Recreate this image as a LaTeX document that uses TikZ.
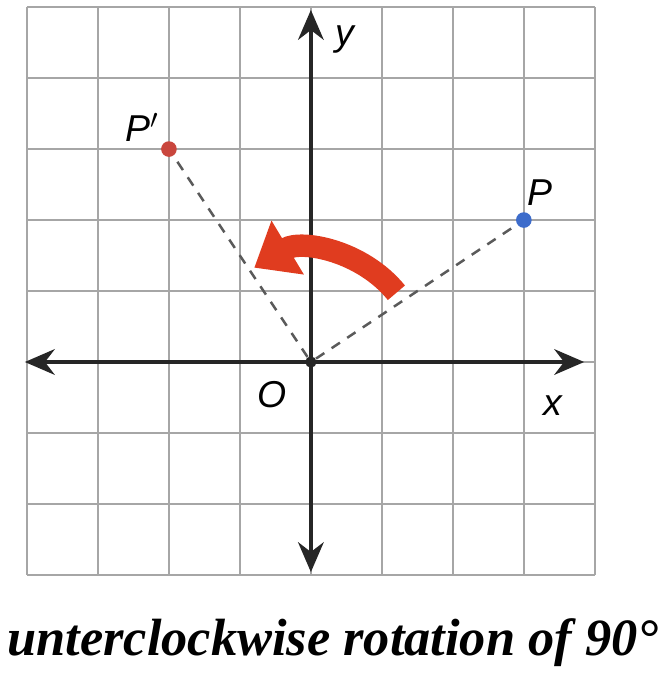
\documentclass[tikz,border=0pt]{standalone}
\usepackage{fontspec}
\setmainfont{Liberation Serif}
\setsansfont{Liberation Sans}
\usepackage{tikz}
\usetikzlibrary{arrows.meta}
\definecolor{gridgray}{HTML}{A6A6A6}
\definecolor{axisblack}{HTML}{262626}
\definecolor{dashgray}{HTML}{5A5A5A}
\definecolor{ptblue}{HTML}{3D6CCB}
\definecolor{ptred}{HTML}{C9463D}
\definecolor{turnred}{HTML}{E03C1F}

\begin{document}
\begin{tikzpicture}[>={Stealth[length=4.2mm,width=3.6mm]},font=\sffamily\itshape\fontsize{15}{18}\selectfont]

\tikzset{
g/.style={draw=gridgray,line width=0.8pt},
ax/.style={<->,line width=1.7pt,color=axisblack},
d/.style={dash pattern=on 4pt off 3.5pt,line width=1pt,color=dashgray},
pt/.style={circle,inner sep=0pt,minimum size=2.2mm},
turn/.style={-{Triangle[length=5.5mm,width=8.5mm]},line width=9pt,color=turnred}
}

\useasboundingbox (-4.38,-4.48) rectangle (5.0,5.1);

\draw[g] (-4,-3) grid (4,5);

\coordinate (xl) at (-4.03,0);
\coordinate (xr) at (3.85,0);
\coordinate (yb) at (0,-2.96);
\coordinate (yt) at (0,4.96);

\draw[ax] (xl) -- (xr);
\draw[ax] (yb) -- (yt);

\node[pt,fill=axisblack,minimum size=1.6mm] (O) at (0,0) {};
\node[pt,fill=ptblue] (P) at (3,2) {};
\node[pt,fill=ptred] (Pp) at (-2,3) {};

\draw[d] (O) -- (P);
\draw[d] (O) -- (Pp);

% the turn
\draw[turn] (39:1.55) arc (39:121:1.55);

\node (xlab) at (3.41,-0.61) {x};
\node (ylab) at (0.48,4.54) {y};
\node (Olab) at (-0.55,-0.46) {O};
\node (Plab) at (3.23,2.39) {P};
\node (Pplab) at (-2.38,3.30) {P$'$};

\node[anchor=base,font=\rmfamily\bfseries\itshape\fontsize{21}{25}\selectfont] (cap) at (0.31,-4.13) {unterclockwise rotation of 90°};

\end{tikzpicture}
\end{document}
